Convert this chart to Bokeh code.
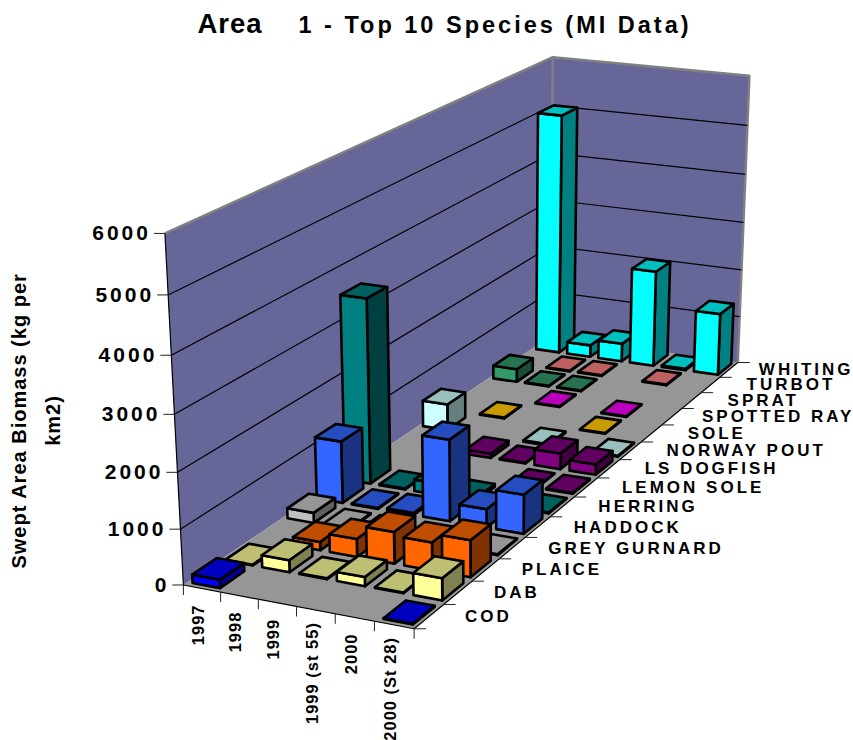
from bokeh.plotting import figure, ColumnDataSource
from bokeh.models import Range1d
from bokeh.layouts import column
from bokeh.embed import file_html
from bokeh.resources import INLINE
from bokeh.core.properties import value
import numpy as np

years = ["1997", "1998", "1999", "1999 (st 55)", "2000", "2000 (St 28)"]
species = ["COD", "DAB", "PLAICE", "GREY GURNARD", "HADDOCK", "HERRING", "LEMON SOLE",
           "LS DOGFISH", "NORWAY POUT", "SOLE", "SPOTTED RAY", "SPRAT", "TURBOT", "WHITING"]
z_ticks = [0, 1000, 2000, 3000, 4000, 5000, 6000]

cod          = [150, None, None, None, None, 15]
dab          = [15, 220, 15, 165, 15, 395]
plaice       = [None, 155, 330, 580, 510, 670]
grey_gurnard = [190, 15, 15, None, None, 15]
haddock      = [1170, 15, 40, 1530, 345, 730]
herring      = [3520, 15, 220, 60, None, 15]
lemon_sole   = [None, None, None, None, 15, 15]
ls_dogfish   = [None, None, 85, 15, 310, 205]
norway_pout  = [520, None, None, 30, None, 15]
sole         = [None, 15, None, None, 15, None]
spotted_ray  = [None, None, 15, None, 15, None]
sprat        = [270, 15, 15, None, None, None]
turbot       = [None, 15, 15, None, 15, None]
whiting      = [5040, 250, 380, 2020, 30, 1300]
table = [cod, dab, plaice, grey_gurnard, haddock, herring, lemon_sole, ls_dogfish,
         norway_pout, sole, spotted_ray, sprat, turbot, whiting]

front_colors = ["#0000FF", "#FFFF99", "#FF6600", "#C0C0C0", "#3366FF", "#008080", "#800080",
                "#800080", "#CCFFFF", "#FFCC00", "#CC00CC", "#339966", "#FF8080", "#00FFFF"]
top_colors = ["#0000C0", "#BFBF73", "#BF4D00", "#969696", "#264DBF", "#006060", "#600060",
              "#600060", "#99BFBF", "#C89B00", "#BB00BB", "#267350", "#BF6060", "#00BFBF"]
side_colors = ["#000090", "#808050", "#803300", "#606060", "#1A3380", "#004040", "#400040",
               "#400040", "#668080", "#806600", "#800080", "#1A4D33", "#804040", "#008080"]
species_nudge = [0, 0, 0, 0, 0, 0, 0, 0, 0, 0, -6, 0, 0, -6]

# Camera calibration: box corners (year index, species index, kg/1000) and their place on the page
cal = []
for zk, (xa, ya) in enumerate([(182, 583), (180, 528), (177, 472), (174, 413), (171, 355), (168, 295), (165, 233)]):
    cal.append((0, 0, zk, xa, ya))
for zk, (xa, ya) in enumerate([(737, 362), (739, 316), (741, 269), (743, 222), (745, 174), (747, 125), (750, 75)]):
    cal.append((6, 14, zk, xa, ya))
for zk, (xa, ya) in enumerate([(551, 336), (551, 291), (551, 246), (551, 200), (551, 153), (551, 105), (551, 56)]):
    cal.append((0, 14, zk, xa, ya))
for i, (xa, ya) in enumerate([(220, 592), (257, 599), (296, 607), (334, 614), (374, 622), (414, 628)]):
    cal.append((i + 1, 0, 0, xa, ya))
for j, ya in enumerate([628, 603, 581, 557, 537, 517, 497, 477, 459, 442, 424, 408, 392, 377, 362]):
    cal.append((6, j, 0, 414 + (628 - ya) * 323 / 266, ya))

A = []
b = []
for X, Y, Z, u, v in cal:
    A.append([X, Y, Z, 1, 0, 0, 0, 0, -u * X, -u * Y, -u * Z]); b.append(u)
    A.append([0, 0, 0, 0, X, Y, Z, 1, -v * X, -v * Y, -v * Z]); b.append(v)
sol = np.linalg.lstsq(np.array(A, float), np.array(b, float), rcond=None)[0]
P = np.append(sol, 1.0).reshape(3, 4)


def pr(x, y, kg=0.0):
    h = P @ np.array([x, y, kg / 1000.0, 1.0])
    return h[0] / h[2], h[1] / h[2]


def poly(pts):
    q = [pr(*t) for t in pts]
    return [a for a, _ in q], [c for _, c in q]


def make(letter=None, transparent=False, margin=(0, 0, 0, 0)):
    f = figure(width=853, height=740, x_range=Range1d(0, 853), y_range=Range1d(740, 0),
               output_backend="svg", toolbar_location=None, min_border=0, margin=margin,
               x_axis_type=None, y_axis_type=None, outline_line_color=None,
               styles={"letter-spacing": letter})
    f.xgrid.visible = False
    f.ygrid.visible = False
    if transparent:
        f.background_fill_alpha = 0
        f.border_fill_alpha = 0
    return f


p = make("3px")
q = make("1px", transparent=True, margin=(-740, 0, 0, 0))
FONT = value("Liberation Sans")

# walls and floor
wx, wy = [], []
for pts in ([(0, 0, 0), (0, 14, 0), (0, 14, 6000), (0, 0, 6000)],
            [(0, 14, 0), (6, 14, 0), (6, 14, 6000), (0, 14, 6000)]):
    a, c = poly(pts)
    wx.append(a); wy.append(c)
p.patches(wx, wy, fill_color="#666699", line_color=None)
a, c = poly([(0, 0, 0), (6, 0, 0), (6, 14, 0), (0, 14, 0)])
p.patch(a, c, fill_color="#969696", line_color=None)

# wall edges
a, c = poly([(0, 0, 6000), (0, 14, 6000), (6, 14, 6000), (6, 14, 0)])
p.line(a, c, line_color="#808080", line_width=2.5)
a, c = poly([(0, 14, 6000), (0, 14, 0)])
p.line(a, c, line_color="#808080", line_width=2.5)

# gridlines
gx, gy = [], []
for z in z_ticks[1:-1]:
    a, c = poly([(0, 0, z), (0, 14, z), (6, 14, z)])
    gx.append(a); gy.append(c)
p.multi_line(gx, gy, line_color="black", line_width=1.2)

# bars, painted from the back row forward, left to right
fx, fy, fc = [], [], []
for j in range(13, -1, -1):
    for i in range(6):
        v = table[j][i]
        if v is None:
            continue
        g = 0.13
        x0, x1, y0, y1 = i + g, i + 1 - g, j + g, j + 1 - g
        for pts, col in (
            ([(x1, y0, 0), (x1, y1, 0), (x1, y1, v), (x1, y0, v)], side_colors[j]),
            ([(x0, y0, 0), (x1, y0, 0), (x1, y0, v), (x0, y0, v)], front_colors[j]),
            ([(x0, y0, v), (x1, y0, v), (x1, y1, v), (x0, y1, v)], top_colors[j]),
        ):
            a, c = poly(pts)
            fx.append(a); fy.append(c); fc.append(col)
p.patches(xs="xs", ys="ys", fill_color="fc", line_color="black", line_width=2.6, line_join="round",
          source=ColumnDataSource(dict(xs=fx, ys=fy, fc=fc)))

# floor edges
a, c = poly([(0, 0, 0), (6, 0, 0), (6, 14, 0)])
p.line(a, c, line_color="black", line_width=1.2)
a, c = poly([(0, 0, 0), (0, 0, 6000)])
p.line(a, c, line_color="black", line_width=1.2)

# ticks
tx, ty = [], []
for z in z_ticks:
    a, c = pr(0, 0, z)
    tx.append([a - 11, a]); ty.append([c, c])
for i in range(7):
    a, c = pr(i, 0)
    tx.append([a, a]); ty.append([c, c + 10])
for j in range(15):
    a, c = pr(6, j)
    tx.append([a, a + 12]); ty.append([c, c])
p.multi_line(tx, ty, line_color="#222222", line_width=1)

# z labels
labels = [str(z) for z in z_ticks]
zx = [pr(0, 0, z)[0] - 17 - (len(s) - 1) * 3 for z, s in zip(z_ticks, labels)]
zy = [pr(0, 0, z)[1] for z in z_ticks]
p.text(zx, zy, text=labels, text_align="right", text_baseline="middle",
       text_font=FONT, text_font_style="bold", text_font_size="21px", text_color="black")

# species labels
sx = [pr(6, j + 0.5)[0] + 36 + species_nudge[j] for j in range(14)]
sy = [pr(6, j + 0.5)[1] for j in range(14)]
p.text(sx, sy, text=species, text_align="left", text_baseline="middle",
       text_font=FONT, text_font_style="bold", text_font_size="17px", text_color="black")

# title tail
p.text([298], [24], text=["1 - Top 10 Species (MI Data)"], text_align="left", text_baseline="middle",
       text_font=FONT, text_font_style="bold", text_font_size="23.5px", text_color="black")

# second layer: tighter spacing
q.text([197], [22.5], text=["Area"], text_align="left", text_baseline="middle",
       text_font=FONT, text_font_style="bold", text_font_size="27.5px", text_color="black")
yx = [pr(i + 0.5, 0)[0] - 4 for i in range(6)]
yy = [pr(i + 0.5, 0)[1] + 18 + 0.5 * len(s) for i, s in enumerate(years)]
q.text(yx, yy, text=years, angle=np.pi / 2, text_align="right", text_baseline="middle",
       text_font=FONT, text_font_style="bold", text_font_size="16.5px", text_color="black")
ylab = ["Swept Area Biomass (kg per", "km2)"]
q.text([18, 52], [420 + 0.5 * len(s) for s in ylab], text=ylab, angle=np.pi / 2,
       text_align="center", text_baseline="middle",
       text_font=FONT, text_font_style="bold", text_font_size="20px", text_color="black")

page = column(p, q, spacing=0)
open("out.html", "w").write(file_html(page, INLINE))
